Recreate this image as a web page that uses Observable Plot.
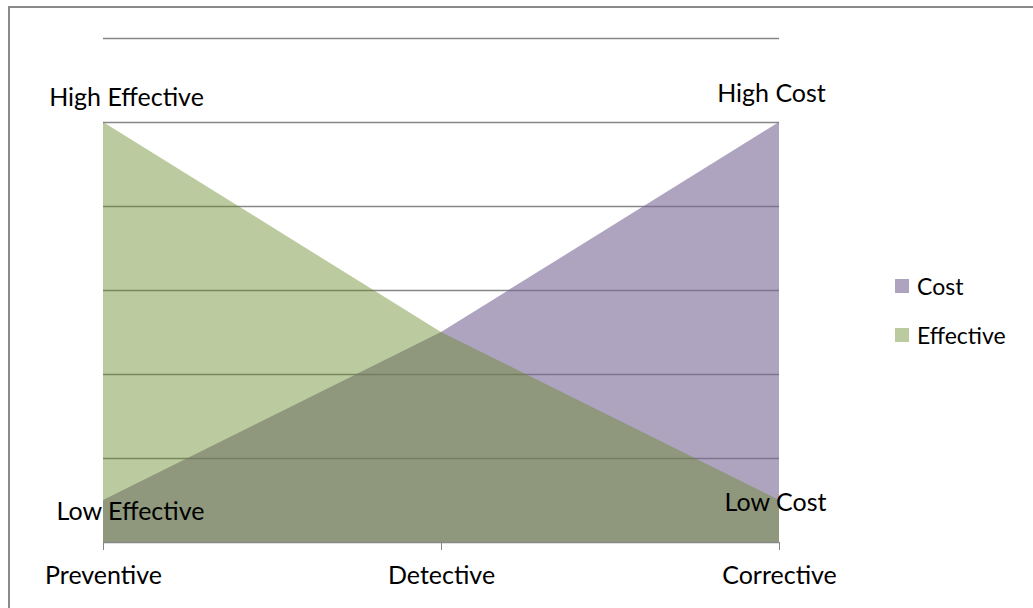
<!DOCTYPE html>
<html>
<head>
<meta charset="utf-8">
<script src="https://cdn.jsdelivr.net/npm/d3@7"></script>
<script src="https://cdn.jsdelivr.net/npm/@observablehq/plot@0.6"></script>
<style>
  body { margin: 0; background: #fff; font-family: Lato, "Open Sans", sans-serif; }
  #wrap { position: relative; width: 1033px; height: 608px; overflow: hidden; background: #fff; }
  #frame { position: absolute; left: 8px; top: 6px; width: 1100px; height: 700px;
           border-left: 2px solid #8a8a8a; border-top: 2px solid #8a8a8a; pointer-events: none; }
  #chart { position: absolute; left: 0; top: 0; }
  #legend { position: absolute; left: 895px; top: 272px; font-size: 23px; color: #000; }
  .item { display: flex; align-items: center; height: 28px; margin-bottom: 21px; }
  .sw { width: 14px; height: 14px; margin-right: 8px; }
</style>
</head>
<body>
<div id="wrap">
  <div id="chart"></div>
  <div id="frame"></div>
  <div id="legend"></div>
</div>
<script>
// Control types along the x axis
const categories = ["Preventive", "Detective", "Corrective"];
// Relative level of each series per control type
const costValues = [0.5, 2.5, 5];
const effectiveValues = [5, 2.5, 0.5];
// Series names (legend order)
const seriesNames = ["Cost", "Effective"];
// Corner annotations: text, category and level they sit next to
const noteText = ["High Effective", "Low Effective", "High Cost", "Low Cost"];
const noteCategory = ["Preventive", "Preventive", "Corrective", "Corrective"];
const noteValue = [5, 0.5, 5, 0.5];
// Horizontal gridline values
const gridValues = [1, 2, 3, 4, 5, 6];

const costData = categories.map((c, i) => ({category: c, value: costValues[i]}));
const effectiveData = categories.map((c, i) => ({category: c, value: effectiveValues[i]}));
const notes = noteText.map((t, i) => ({text: t, category: noteCategory[i], value: noteValue[i]}));

const costFill = "#786796", costOpacity = 0.6;
const effFill = "#688a27", effOpacity = 0.445;
const legendSwatch = {Cost: "#aea4c0", Effective: "#bccb9f"};

const fontSize = 25;
// label offsets from the point each note is attached to
const noteOffset = {
  "High Effective": [23, -25],
  "Low Effective": [27, 11],
  "High Cost": [-8, -29],
  "Low Cost": [-4, 2]
};
const noteMark = (note) => Plot.text([note], {
  x: "category", y: "value", text: "text",
  fontSize, fill: "#000",
  dx: noteOffset[note.text][0], dy: noteOffset[note.text][1]
});

const chart = Plot.plot({
  width: 1033,
  height: 608,
  marginLeft: 103,
  marginRight: 254,
  marginTop: 38,
  marginBottom: 66,
  style: {background: "transparent", fontFamily: "Lato, 'Open Sans', sans-serif"},
  x: {type: "point", domain: categories, padding: 0},
  y: {domain: [0, 6], axis: null},
  marks: [
    Plot.ruleY(gridValues, {stroke: "#878787", strokeWidth: 1.6}),
    Plot.areaY(costData, {x: "category", y: "value", fill: costFill, fillOpacity: costOpacity}),
    Plot.areaY(effectiveData, {x: "category", y: "value", fill: effFill, fillOpacity: effOpacity}),
    Plot.ruleY([0], {stroke: "#878787", strokeWidth: 1.6}),
    Plot.axisX({tickSize: 8, tickPadding: 16, fontSize, stroke: "#878787", fill: "#000", label: null}),
    ...notes.map(noteMark)
  ]
});
document.getElementById("chart").appendChild(chart);

// Legend
const legend = document.getElementById("legend");
for (const name of seriesNames) {
  const item = document.createElement("div");
  item.className = "item";
  const sw = document.createElement("span");
  sw.className = "sw";
  sw.style.background = legendSwatch[name];
  const t = document.createElement("span");
  t.textContent = name;
  item.append(sw, t);
  legend.appendChild(item);
}
</script>
</body>
</html>
